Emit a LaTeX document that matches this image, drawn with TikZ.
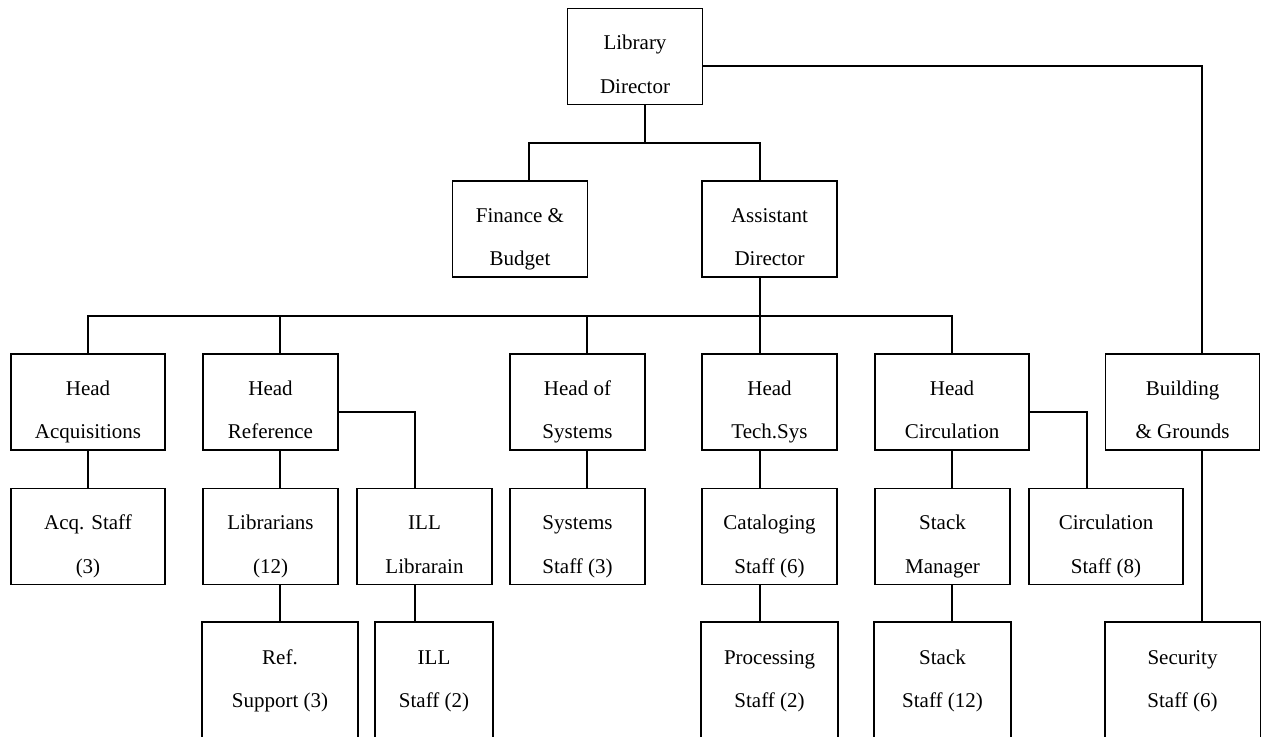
\documentclass[tikz,border=0pt]{standalone}
\usepackage{fontspec}
\setmainfont{Liberation Serif}
\usetikzlibrary{calc}
\tikzset{
    post/.style={draw, line width=0.9pt, minimum width=67.5pt, minimum height=48pt, inner sep=0pt,
        align=center, text height=36.8pt, text depth=0pt, font=\fontsize{10.5}{21.75}\selectfont},
    wide/.style={post, minimum width=77pt},
    open/.style={draw=none},
}

\begin{document}
\begin{tikzpicture}[x=0.5pt, y=-0.5pt, line width=0.9pt]
    \clip (0,0) rectangle (1265,737);
    \node[post] (ld) at (635,56.5) {Library\\Director};
    \node[post] (fb) at (520,229) {Finance \&\\Budget};
    \node[post] (ad) at (769.5,229) {Assistant\\Director};
    \node[wide] (ha) at (88,402) {Head\\Acquisitions};
    \node[post] (hr) at (270.5,402) {Head\\Reference};
    \node[post] (hs) at (577.5,402) {Head of\\Systems};
    \node[post] (ht) at (769.5,402) {Head\\Tech.Sys};
    \node[wide] (hc) at (952,402) {Head\\Circulation};
    \node[wide] (bg) at (1182.5,402) {Building\\\& Grounds};
    \node[wide] (as) at (88,536.5) {Acq. Staff\\(3)};
    \node[post] (lb) at (270.5,536.5) {Librarians\\(12)};
    \node[post] (il) at (424.5,536.5) {ILL\\Librarain};
    \node[post] (ss) at (577.5,536.5) {Systems\\Staff (3)};
    \node[post] (cs) at (769.5,536.5) {Cataloging\\Staff (6)};
    \node[post] (sm) at (942.5,536.5) {Stack\\Manager};
    \node[wide] (cc) at (1106,536.5) {Circulation\\Staff (8)};
    \node[wide, open] (rs) at (280,671) {Ref.\\Support (3)};
    \node[post, open, minimum width=58pt] (is) at (434,671) {ILL\\Staff (2)};
    \node[post, open] (ps) at (769.5,671) {Processing\\Staff (2)};
    \node[post, open] (st) at (942.5,671) {Stack\\Staff (12)};
    \node[wide, open] (se) at (1182.5,671) {Security\\Staff (6)};
    \foreach \n in {rs,is,ps,st,se}
        \draw ($(\n.south west)+(0,40)$) |- (\n.north east) -- ($(\n.south east)+(0,40)$);
    \coordinate (t1) at (645,143);
    \coordinate (t2) at (760,316);
    \draw ([xshift=5pt]ld.south) -- (t1);
    \draw ([xshift=4.5pt]fb.north) |- (t1) -| ([xshift=-4.75pt]ad.north);
    \draw ([yshift=-4.75pt]ld.east) -| ([xshift=9.75pt]bg.north);
    \draw ([xshift=-4.75pt]ad.south) -- (t2);
    \draw (ha.north) |- (t2) -| (hc.north);
    \draw ([xshift=4.75pt]hr.north) -- ([xshift=4.75pt]hr.north |- t2);
    \draw ([xshift=4.75pt]hs.north) -- ([xshift=4.75pt]hs.north |- t2);
    \draw ([xshift=-4.75pt]ht.north) -- (t2);
    \draw (ha) -- (as);
    \draw ([xshift=4.75pt]hr.south) -- ([xshift=4.75pt]lb.north);
    \draw ([yshift=-5pt]hr.east) -| ([xshift=-4.75pt]il.north);
    \draw ([xshift=-4.75pt]il.south) -- ([xshift=-9.5pt]is.north);
    \draw ([xshift=4.75pt]lb.south) -- (rs.north);
    \draw ([xshift=4.75pt]hs.south) -- ([xshift=4.75pt]ss.north);
    \draw ([xshift=-4.75pt]ht.south) -- ([xshift=-4.75pt]cs.north);
    \draw ([xshift=-4.75pt]cs.south) -- ([xshift=-4.75pt]ps.north);
    \draw (hc.south) -- ([xshift=4.75pt]sm.north);
    \draw ([xshift=4.75pt]sm.south) -- ([xshift=4.75pt]st.north);
    \draw ([yshift=-5pt]hc.east) -| ([xshift=-9.5pt]cc.north);
    \draw ([xshift=9.75pt]bg.south) -- ([xshift=9.75pt]se.north);
\end{tikzpicture}
\end{document}
